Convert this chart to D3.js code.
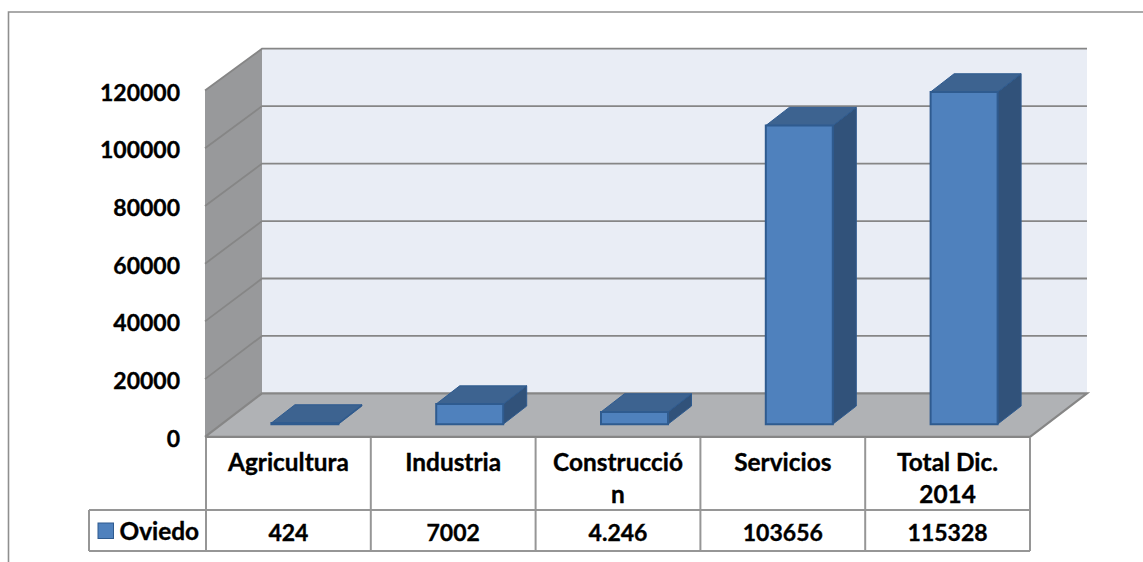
<!DOCTYPE html>
<html><head><meta charset="utf-8">
<script src="https://cdn.jsdelivr.net/npm/d3@7"></script>
<style>html,body{margin:0;padding:0;background:#fff}svg{display:block}text{font-family:Lato,"Open Sans",sans-serif;font-weight:700;fill:#000;stroke:#000;stroke-width:.35px}</style>
</head><body><svg id="c" width="1143" height="562"></svg>
<script>
const categories=["Agricultura","Industria","Construcción","Servicios","Total Dic. 2014"];
const categoryLines=[["Agricultura"],["Industria"],["Construcció","n"],["Servicios"],["Total Dic.","2014"]];
const values=[424,7002,4246,103656,115328];
const valueLabels=["424","7002","4.246","103656","115328"];
const seriesName="Oviedo";
const yTicks=[0,20000,40000,60000,80000,100000,120000];

const svg=d3.select("#c");
const GRID="#868686",LINE="#969696",FRONT="#4f81bd",TOP="#3d6390",SIDE="#31527a",EDGE="#2f5b8f";
const fsWords=24.4,fsNums=23;
const x=d3.scaleBand().domain(categories).range([206,1030]);
const y=d3.scaleLinear().domain([0,120000]).range([436.8,90.6]);
const yBack=d3.scaleLinear().domain([0,120000]).range([393.4,48.7]);
const yBar=d3.scaleLinear().domain([0,120000]).range([424.2,78.5]);
const dxBack=57, barOffX=16.5, barDepth={dx:23.5,dy:-18.2}, barW=67;
const poly=(pts,fill,stroke,sw)=>svg.append("polygon").attr("points",pts.map(p=>p.join(",")).join(" ")).attr("fill",fill).attr("stroke",stroke||"none").attr("stroke-width",sw||0);

// frame
svg.append("path").attr("d","M1143,12H8.5V562").attr("fill","none").attr("stroke","#8f8f8f").attr("stroke-width",1.6);

const x0=x.range()[0]-1,x1=x.range()[1],y0=y(0),yt=y(120000);
const bx0=x0+dxBack,bx1=x1+dxBack,by0=yBack(0),byt=yBack(120000);
// back wall
poly([[bx0,byt],[bx1,byt],[bx1,by0],[bx0,by0]],"#e9edf5");
// side wall
poly([[x0,yt],[bx0,byt],[bx0,by0],[x0,y0]],"#98999b");
// floor
poly([[x0,y0],[x1,y0],[bx1,by0],[bx0,by0]],"#b0b2b5");
// gridlines
yTicks.forEach(t=>{
  svg.append("path").attr("d",`M${x0},${y(t)}L${bx0},${yBack(t)}H${bx1}`+(t===0?`L${x1},${y(t)}H${x0}`:""))
    .attr("fill","none").attr("stroke",GRID).attr("stroke-width",t===0?2.2:1.8);
});
// bars
categories.forEach((c,i)=>{
  const cx=x(c)+x.bandwidth()/2+barOffX;
  const l=cx-barW/2,r=cx+barW/2,b=yBar(0),t=yBar(values[i]);
  const d=barDepth;
  poly([[r,b],[r+d.dx,b+d.dy],[r+d.dx,t+d.dy],[r,t]],SIDE,EDGE,1);
  poly([[l,t],[r,t],[r+d.dx,t+d.dy],[l+d.dx,t+d.dy]],TOP,EDGE,1);
  poly([[l,t],[r,t],[r,b],[l,b]],FRONT,EDGE,2);
});
// value axis
const axis=d3.axisLeft(y).tickValues(yTicks).tickFormat(d3.format("d")).tickSize(0).tickPadding(0);
const ag=svg.append("g").attr("transform","translate(180,1.3)").call(axis);
ag.select(".domain").remove();
ag.selectAll("text").attr("font-size",fsNums).attr("font-family","Lato").attr("font-weight",700).attr("dy","0.36em");
// data table
const rowTop=y0,rowMid=510,rowBot=551;
const tbl=svg.append("g").attr("stroke",LINE).attr("stroke-width",2).attr("fill","none");
tbl.append("path").attr("d",`M89,${rowMid}H${x1}M89,${rowBot}H${x1}M89,${rowMid}V${rowBot}`);
[...categories.map(c=>x(c)),x1].forEach(px=>tbl.append("line").attr("x1",px).attr("x2",px).attr("y1",rowTop+1).attr("y2",rowBot));
categories.forEach((c,i)=>{
  const cx=x(c)+x.bandwidth()/2;
  categoryLines[i].forEach((ln,j)=>svg.append("text").attr("x",cx).attr("y",471+j*32).attr("text-anchor","middle").attr("font-size",fsWords).text(ln));
  svg.append("text").attr("x",cx).attr("y",540.5).attr("text-anchor","middle").attr("font-size",fsNums).text(valueLabels[i]);
});
svg.append("rect").attr("x",98).attr("y",523).attr("width",15.5).attr("height",15.5).attr("fill",FRONT).attr("stroke",EDGE).attr("stroke-width",1);
svg.append("text").attr("x",119.5).attr("y",540).attr("font-size",fsWords).text(seriesName);
</script></body></html>
